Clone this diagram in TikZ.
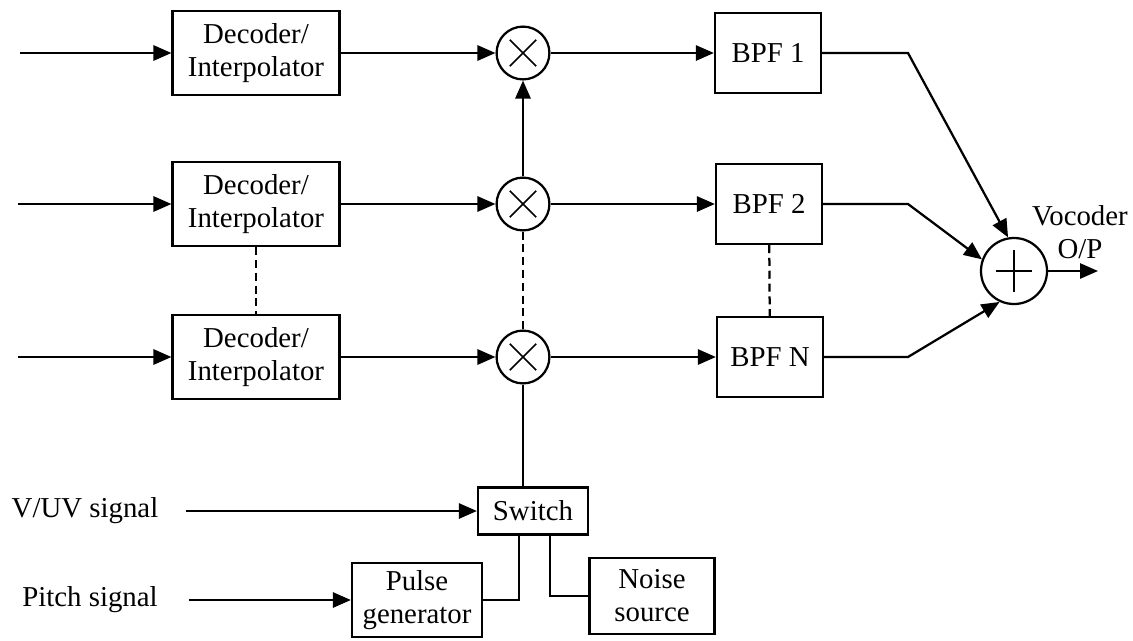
\documentclass[tikz,border=0pt]{standalone}
\usepackage{fontspec}
\setmainfont{Liberation Serif}
\usetikzlibrary{arrows.meta,positioning}

\begin{document}
\begin{tikzpicture}[x=0.025cm, y=-0.025cm, line width=1.6pt,
  font=\fontsize{20.5}{23.5}\selectfont,
  blk/.style={draw, align=center, inner sep=2pt},
  dec/.style={blk, minimum width=4.17cm, minimum height=2.1cm},
  bpf/.style={blk, minimum width=2.65cm, minimum height=2.0cm},
  mult/.style={circle, draw, minimum size=1.32cm, inner sep=0pt,
    path picture={\draw[line width=1.2pt] (path picture bounding box.center)
      +(-0.33cm,-0.33cm) -- +(0.33cm,0.33cm) +(-0.33cm,0.33cm) -- +(0.33cm,-0.33cm);}},
  adder/.style={circle, draw, minimum size=1.65cm, inner sep=0pt,
    path picture={\draw[line width=1.2pt] (path picture bounding box.center)
      +(-0.46cm,0) -- +(0.46cm,0) +(0,-0.52cm) -- +(0,0.52cm);}},
  sig/.style={-{Triangle[length=0.45cm,width=0.38cm]}},
  dots/.style={dash pattern=on 0.2cm off 0.12cm}]

\useasboundingbox (0,0) rectangle (1133,640);

% Channel rows
\node[dec] (d1) at (256,53) {Decoder/\\Interpolator};
\node[dec] (d2) at (256,204) {Decoder/\\Interpolator};
\node[dec] (d3) at (256,357) {Decoder/\\Interpolator};
\node[mult] (m1) at (523,53) {};
\node[mult] (m2) at (523,204) {};
\node[mult] (m3) at (523,357) {};
\node[bpf] (b1) at (768,53) {BPF 1};
\node[bpf] (b2) at (769,204) {BPF 2};
\node[bpf] (b3) at (770,357) {BPF N};
\node[adder] (s) at (1014,271) {};
\node[align=center] (vo) at (1080,232) {Vocoder\\O/P};

% Excitation
\node[blk, minimum width=2.75cm, minimum height=1.18cm] (sw) at (533,511) {Switch};
\node[blk, minimum width=3.25cm, minimum height=1.85cm] (pg) at (417,600) {Pulse\\generator};
\node[blk, minimum width=3.12cm, minimum height=1.9cm] (ns) at (652,596) {Noise\\source};
\node (vuv) at (85,511) {V/UV signal};
\node (pit) at (90,600) {Pitch signal};

\coordinate (in1) at (20,53);
\coordinate (in2) at (18,204);
\coordinate (in3) at (18,357);
\coordinate (k1) at (908,53);
\coordinate (k2) at (908,204);
\coordinate (k3) at (908,357);
\coordinate (out) at (1098,271);

% Signal paths
\draw[sig] (in1) -- (d1);
\draw[sig] (in2) -- (d2);
\draw[sig] (in3) -- (d3);
\draw[sig] (d1) -- (m1);
\draw[sig] (d2) -- (m2);
\draw[sig] (d3) -- (m3);
\draw[sig] (m1) -- (b1);
\draw[sig] (m2) -- (b2);
\draw[sig] (m3) -- (b3);
\draw[sig] (m2) -- (m1);
\draw[dots] (d2) -- (d3);
\draw[dots] (m2) -- (m3);
\draw[dots] (b2) -- (b3);
\draw[sig] (b1) -- (k1) -- (s.100);
\draw[sig] (b2) -- (k2) -- (s.160);
\draw[sig] (b3) -- (k3) -- (s.245);
\draw[sig] (s) -- (out);

\draw (sw.north -| m3) -- (m3);
\draw[sig] ([xshift=0.55cm]vuv.east) -- (sw.west);
\draw[sig] ([xshift=0.65cm]pit.east) -- (pg.west);
\draw ([xshift=-0.35cm]sw.south) |- (pg.east);
\draw ([xshift=0.42cm]sw.south) |- (ns.west);
\end{tikzpicture}
\end{document}
